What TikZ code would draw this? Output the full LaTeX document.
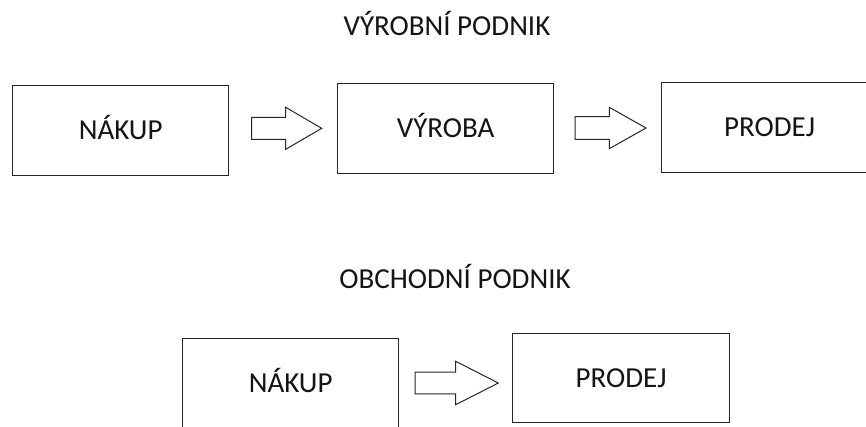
\documentclass[tikz,border=0pt]{standalone}
\usepackage{fontspec}
\setmainfont{Carlito}
\begin{document}
\begin{tikzpicture}[x=1pt,y=-1pt,
  txt/.style={font=\fontsize{29}{34}\selectfont, text=black!92},
  box/.style={txt, draw=black!85, line width=1.3pt, minimum width=216pt,
    minimum height=90pt, inner sep=0pt, text height=18.5pt, text depth=0pt,
    anchor=north west},
  title/.style={txt, anchor=base, inner sep=0pt},
  arrowline/.style={draw=black!85, line width=1pt, line join=miter},
  % hollow block arrow: length, head length, shaft half-width, head half-width
  pics/fatarrow/.style n args={4}{code={
    \draw[arrowline] (0,#3) -- ({#1-#2},#3) -- ({#1-#2},#4) -- (#1,0)
      -- ({#1-#2},-#4) -- ({#1-#2},-#3) -- (0,-#3) -- cycle;
  }}]
  \clip (0,0) rectangle (866,426);

  % production company
  \node[title] (ttop) at (447,35) {VÝROBNÍ PODNIK};
  \node[box] (nakup1)  at (12,85)  {NÁKUP};
  \node[box] (vyroba)  at (337,83) {VÝROBA};
  \node[box] (prodej1) at (661,82) {PRODEJ};
  \pic (a1) at (251.7,128.3) {fatarrow={70}{36}{11}{21}};
  \pic (a2) at (575,128)     {fatarrow={71}{36.7}{11.3}{20.7}};

  % trading company
  \node[title] (tbot) at (455,288) {OBCHODNÍ PODNIK};
  \node[box] (nakup2)  at (182,338) {NÁKUP};
  \node[box, minimum width=217pt, minimum height=89pt] (prodej2) at (512,333) {PRODEJ};
  \pic (a3) at (415,383) {fatarrow={83.3}{42.6}{10.8}{21.7}};
\end{tikzpicture}
\end{document}
